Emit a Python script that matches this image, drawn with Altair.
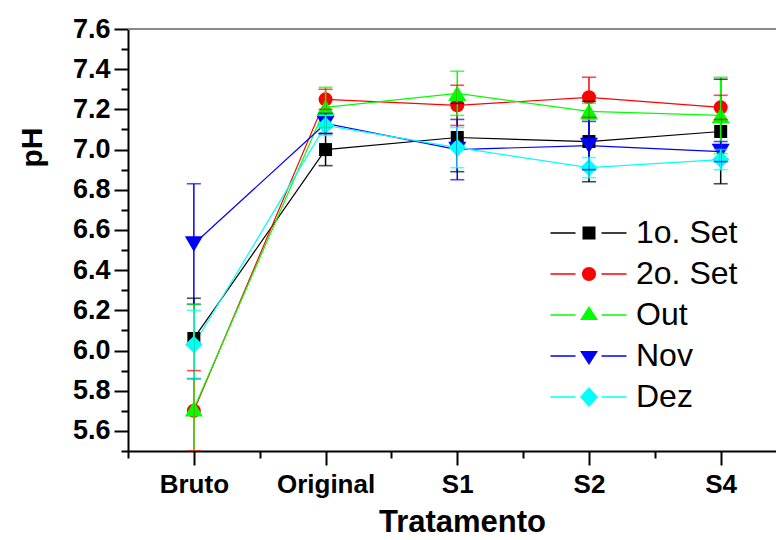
import json
import altair as alt
import pandas as pd

# ---------------- data ----------------
categories = ["Bruto", "Original", "S1", "S2", "S4"]
series_names = ["1o. Set", "2o. Set", "Out", "Nov", "Dez"]
series_colors = ["#000000", "#FF0000", "#00FF00", "#0000FF", "#00FFFF"]

set1_ph = [6.06, 7.00, 7.06, 7.04, 7.09]
set1_err = [0.20, 0.08, 0.17, 0.20, 0.26]
set2_ph = [5.70, 7.25, 7.22, 7.26, 7.21]
set2_err = [0.20, 0.05, 0.10, 0.10, 0.06]
out_ph = [5.71, 7.21, 7.28, 7.19, 7.17]
out_err = [0.52, 0.10, 0.11, 0.04, 0.19]
nov_ph = [6.53, 7.13, 7.00, 7.02, 6.99]
nov_err = [0.30, 0.05, 0.15, 0.12, 0.05]
dez_ph = [6.03, 7.12, 7.01, 6.91, 6.95]
dez_err = [0.17, 0.05, 0.10, 0.05, 0.05]

y_tick_values = [round(5.5 + 0.1 * i, 1) for i in range(22)]
x_tick_values = [0.5, 1, 1.5, 2, 2.5, 3, 3.5, 4, 4.5, 5]

# ---------------- styles ----------------
marker_shapes = ["square", "circle", "triangle-up", "triangle-down", "diamond"]
marker_sizes = [169, 196, 324, 324, 300]
# legend symbols: line segment - marker - line segment (pixel units, symbol size 4 => r = 1px)
seg = "M-38.5,-0.75H-13.5V0.75H-38.5Z M12.5,-0.75H37.5V0.75H12.5Z "
legend_paths = [
    seg + "M-6.5,-6.5H6.5V6.5H-6.5Z",
    seg + "M-7,0A7,7 0 1,0 7,0A7,7 0 1,0 -7,0Z",
    seg + "M0,-9L9,5L-9,5Z",
    seg + "M-9,-5L9,-5L0,9Z",
    seg + "M0,-10L9,0L0,10L-9,0Z",
]

rows = []
for s, vals, errs in zip(series_names,
                         [set1_ph, set2_ph, out_ph, nov_ph, dez_ph],
                         [set1_err, set2_err, out_err, nov_err, dez_err]):
    for i, (v, e) in enumerate(zip(vals, errs)):
        rows.append({"series": s, "pos": i + 1, "ph": v,
                     "lo": round(v - e, 3), "hi": round(v + e, 3)})
df = pd.DataFrame(rows)

x_label_expr = ("datum.value % 1 === 0 ? " + json.dumps(categories) +
                "[datum.value - 1] : ''")
x_axis = alt.Axis(
    title="Tratamento", values=x_tick_values, labelExpr=x_label_expr,
    tickSize={"condition": {"test": "datum.value % 1 === 0", "value": 14}, "value": 7},
    labelPadding=6, labelFontSize=26, titleX=334, titleY=80, titleBaseline="alphabetic",
    titleFontSize=31,
)
y_axis = alt.Axis(
    title="pH", values=y_tick_values,
    labelExpr="round(datum.value * 10) % 2 === 0 ? format(datum.value, '.1f') : ''",
    tickSize={"condition": {"test": "round(datum.value * 10) % 2 === 0", "value": 14}, "value": 7},
    labelPadding=4, labelFontSize=27, titleX=-96, titleY=118, titleAngle=-90,
    titleBaseline="middle", titleAlign="center", titleFontSize=30,
)
x_scale = alt.Scale(domain=[0.5, 5.42], nice=False, zero=False)
y_scale = alt.Scale(domain=[5.5, 7.6], nice=False, zero=False)


def X():
    return alt.X("pos:Q", scale=x_scale, axis=x_axis)


def Y(field):
    return alt.Y(f"{field}:Q", scale=y_scale, axis=y_axis)


# data layers: colour scales listed in reverse order so that their (disabled)
# legends do not merge with the custom legend below
rev_scale = dict(domain=series_names[::-1], range=series_colors[::-1])
stroke_enc = alt.Stroke("series:N", scale=alt.Scale(**rev_scale), legend=None)
fill_enc = alt.Fill("series:N", scale=alt.Scale(**rev_scale), legend=None)

base = alt.Chart(df)

lines = base.mark_line(strokeWidth=1.2, clip=True).encode(
    x=X(), y=Y("ph"), stroke=stroke_enc, detail="series:N")

point_layers = []
for s, shp, sz in zip(series_names, marker_shapes, marker_sizes):
    point_layers.append(
        base.transform_filter(alt.datum.series == s)
        .mark_point(filled=True, shape=shp, size=sz, opacity=1, strokeWidth=0, clip=True)
        .encode(x=X(), y=Y("ph"), fill=fill_enc)
    )

err_rule = base.mark_rule(strokeWidth=1.5, clip=True).encode(
    x=X(), y=Y("lo"), y2="hi:Q", stroke=stroke_enc)
cap_lo = base.mark_tick(orient="horizontal", size=14, thickness=1.6, clip=True).encode(
    x=X(), y=Y("lo"), fill=fill_enc)
cap_hi = base.mark_tick(orient="horizontal", size=14, thickness=1.6, clip=True).encode(
    x=X(), y=Y("hi"), fill=fill_enc)

legend_props = dict(
    title=None, orient="none", legendX=445, legendY=188, symbolSize=4,
    symbolStrokeWidth=0, labelFont="Liberation Sans", labelFontSize=32,
    labelFontWeight="normal", labelColor="black", labelOffset=31,
    rowPadding=9, padding=0, labelLimit=400, symbolOpacity=1,
)
legend_layer = (
    base.transform_filter("false")
    .mark_point(filled=True)
    .encode(
        color=alt.Color("series:N", scale=alt.Scale(domain=series_names, range=series_colors),
                        legend=alt.Legend(**legend_props)),
        shape=alt.Shape("series:N", scale=alt.Scale(domain=series_names, range=legend_paths),
                        legend=alt.Legend(**legend_props)),
    )
)

top_line = alt.Chart(df).mark_rule(color="#888888", strokeWidth=1).encode(
    x=alt.value(0), x2=alt.value("width"), y=alt.value(0))

chart = alt.layer(
    top_line, lines, *point_layers, err_rule, cap_lo, cap_hi, legend_layer
).properties(
    width=648, height=422,
    padding={"left": 128, "top": 29, "right": 0, "bottom": 89},
    autosize=alt.AutoSizeParams(type="none"),
    background="white",
).configure_view(stroke=None).configure_axis(
    grid=False, domainColor="black", domainWidth=2, tickColor="black", tickWidth=2,
    labelFont="Liberation Sans", labelFontWeight="bold", labelColor="black",
    titleFont="Liberation Sans", titleFontWeight="bold", titleColor="black",
)

chart.save("out.html", embed_options={"renderer": "svg", "actions": False})
